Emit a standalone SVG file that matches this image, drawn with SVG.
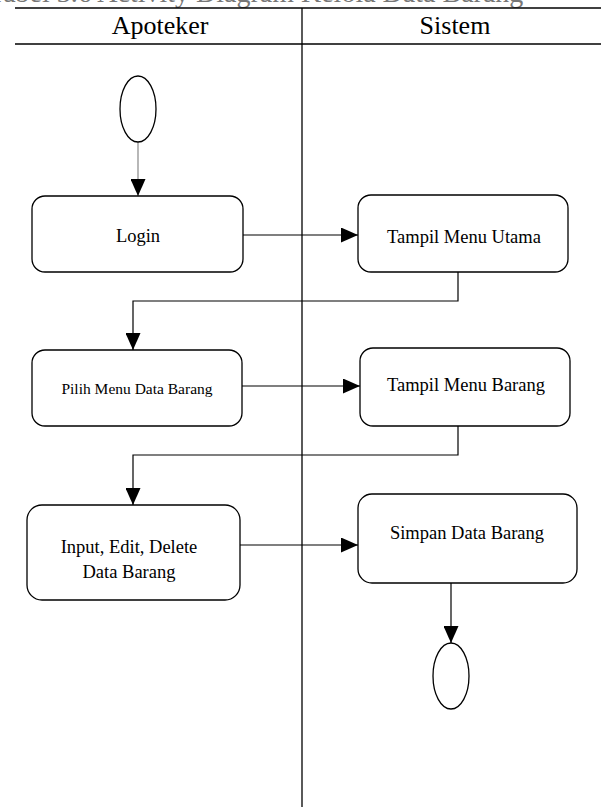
<svg xmlns="http://www.w3.org/2000/svg" width="601" height="807" viewBox="0 0 601 807">
  <style>
    .lane { stroke: #000; stroke-width: 1.3; fill: none; }
    .box { fill: #fff; stroke: #000; stroke-width: 1.3; }
    .edge { stroke: #000; stroke-width: 1.2; fill: none; }
    .txt { font-family: "Liberation Serif", "Times New Roman", serif; fill: #000; text-anchor: middle; }
    .head { font-size: 26px; }
    .lbl { font-size: 18.5px; }
    .small { font-size: 15.5px; }
    .caption { font-family: "Liberation Serif", "Times New Roman", serif; font-size: 28px; fill: #777; }
  </style>
  <defs>
    <marker id="arrow" markerWidth="17" markerHeight="15" refX="17" refY="7.5" orient="auto" markerUnits="userSpaceOnUse">
      <path d="M0,0 L17,7.5 L0,15 Z" fill="#000"/>
    </marker>
  </defs>

  <rect width="601" height="807" fill="#fff"/>

  <!-- caption, running off the top edge -->
  <text class="caption" x="-12" y="2">Tabel 3.6 Activity Diagram Kelola Data Barang</text>

  <!-- swimlanes -->
  <g id="swimlanes">
    <line class="lane" x1="15" y1="8" x2="601" y2="8"/>
    <line class="lane" x1="15" y1="44" x2="601" y2="44"/>
    <line class="lane" x1="302" y1="8" x2="302" y2="807"/>
    <text class="txt head" x="160" y="34">Apoteker</text>
    <text class="txt head" x="455" y="34">Sistem</text>
  </g>

  <!-- connectors -->
  <g id="connectors">
    <line class="edge" x1="138" y1="142" x2="138" y2="196" style="stroke:#888" marker-end="url(#arrow)"/>
    <line class="edge" x1="243" y1="235" x2="358" y2="235" marker-end="url(#arrow)"/>
    <polyline class="edge" points="458,272 458,301 133,301 133,350" marker-end="url(#arrow)"/>
    <line class="edge" x1="242" y1="386" x2="360" y2="386" marker-end="url(#arrow)"/>
    <polyline class="edge" points="458,426 458,455 133,455 133,505" marker-end="url(#arrow)"/>
    <line class="edge" x1="240" y1="545" x2="358" y2="545" marker-end="url(#arrow)"/>
    <line class="edge" x1="451" y1="583" x2="451" y2="643" marker-end="url(#arrow)"/>
  </g>

  <!-- nodes -->
  <g id="start">
    <ellipse class="box" cx="138" cy="109" rx="18" ry="33"/>
  </g>
  <g id="login">
    <rect class="box" x="32" y="196" width="211" height="76" rx="13"/>
    <text class="txt lbl" x="138" y="242">Login</text>
  </g>
  <g id="tampil-menu-utama">
    <rect class="box" x="358" y="195" width="210" height="77" rx="13"/>
    <text class="txt lbl" x="464" y="243">Tampil Menu Utama</text>
  </g>
  <g id="pilih-menu-data-barang">
    <rect class="box" x="32" y="350" width="210" height="76" rx="13"/>
    <text class="txt small" x="137" y="394">Pilih Menu Data Barang</text>
  </g>
  <g id="tampil-menu-barang">
    <rect class="box" x="360" y="348" width="210" height="78" rx="13"/>
    <text class="txt lbl" x="466" y="391">Tampil Menu Barang</text>
  </g>
  <g id="input-edit-delete">
    <rect class="box" x="27" y="505" width="213" height="95" rx="15"/>
    <text class="txt lbl" x="129" y="553">Input, Edit, Delete</text>
    <text class="txt lbl" x="129" y="578">Data Barang</text>
  </g>
  <g id="simpan-data-barang">
    <rect class="box" x="358" y="494" width="219" height="89" rx="14"/>
    <text class="txt lbl" x="467" y="539">Simpan Data Barang</text>
  </g>
  <g id="end">
    <ellipse class="box" cx="451" cy="676" rx="18" ry="33"/>
  </g>
</svg>
